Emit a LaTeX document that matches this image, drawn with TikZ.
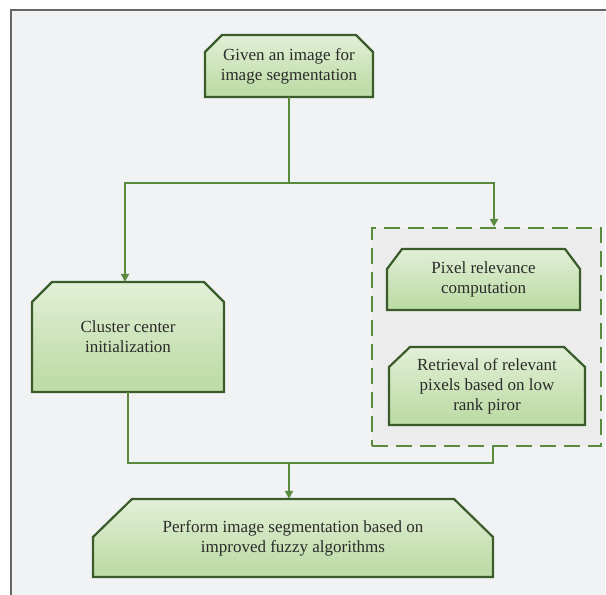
\documentclass[tikz,border=0pt]{standalone}
\usepackage{fontspec}
\setmainfont{Liberation Serif}
\usetikzlibrary{arrows.meta,calc}

\definecolor{pagebg}{HTML}{F1F2F4}
\definecolor{framegray}{HTML}{666666}
\definecolor{groupbg}{HTML}{ECECEC}
\definecolor{boxedge}{HTML}{3A5C2A}
\definecolor{boxtop}{HTML}{F5FAF1}
\definecolor{boxbot}{HTML}{BEDCA7}
\definecolor{linkgreen}{HTML}{5A8A3E}
\definecolor{inkgray}{HTML}{2B2B2B}

% vertical fill of the process boxes: pale at the top, green lower down
\pgfdeclareverticalshading{boxshade}{100bp}{color(0bp)=(boxbot); color(30bp)=(boxbot); color(100bp)=(boxtop)}

\tikzset{
  boxshape/.style={draw=boxedge, line width=2.2pt, shading=boxshade, line join=miter},
  boxtext/.style={inner sep=0pt, align=center, text=inkgray,
    font=\fontsize{17}{20}\selectfont},
  conn/.style={draw=linkgreen, line width=2pt},
  flow/.style={conn, -{Triangle[length=8pt,width=8pt]}},
  groupbox/.style={draw=linkgreen, fill=groupbg, line width=2.4pt,
    dash pattern=on 16pt off 8pt},
}

% #1 name, #2..#5 left/top/right/bottom, #6/#7 corner cut (horizontal/vertical), #8 text
\newcommand\chambox[8]{%
  \path[boxshape] (#2,#5) -- (#2,{#3+#7}) -- ({#2+#6},#3) -- ({#4-#6},#3)
    -- (#4,{#3+#7}) -- (#4,#5) -- cycle;
  \node[boxtext, minimum width={(#4-#2)*1pt}, minimum height={(#5-#3)*1pt}]
    (#1) at ({(#2+#4)/2},{(#3+#5)/2}) {#8};
}

\begin{document}
\begin{tikzpicture}[x=1pt,y=-1pt]
  \useasboundingbox (0,0) rectangle (606,595);
  % page panel with its left and top rule
  \fill[white] (0,0) rectangle (606,595);
  \fill[pagebg] (11,10) rectangle (605,595);
  \draw[framegray, line width=1.6pt] (11,595) -- (11,10) -- (606,10);

  % dashed group around the two relevance steps
  \node[groupbox, minimum width=229pt, minimum height=218pt, inner sep=0pt]
    (group) at (486.5,337) {};

  \chambox{given}{205}{35}{373}{97}{17}{17}{Given an image for\\image segmentation}
  \chambox{cluster}{32}{282}{224}{392}{20}{20}{Cluster center\\initialization}
  \chambox{relevance}{387}{249}{580}{310}{15}{20}{Pixel relevance\\computation}
  \chambox{retrieval}{389}{347}{585}{425}{21}{20}{Retrieval of relevant\\pixels based on low\\rank piror}
  \chambox{perform}{93}{499}{493}{577}{39}{38}{Perform image segmentation based on\\improved fuzzy algorithms}

  % split from the input image to both branches
  \coordinate (split) at (given.south |- 0,183);
  \draw[conn] (given.south) -- (split);
  \draw[flow] (split) -| ([xshift=-3pt]cluster.north);
  \draw[flow] (split) -| ([xshift=7.5pt]group.north);

  % merge of both branches into the final step
  \coordinate (join) at (given.south |- 0,463);
  \draw[conn] (cluster.south) |- (join) -| ([xshift=6.5pt]group.south);
  \draw[flow] (join) -- (join |- perform.north);
\end{tikzpicture}
\end{document}
